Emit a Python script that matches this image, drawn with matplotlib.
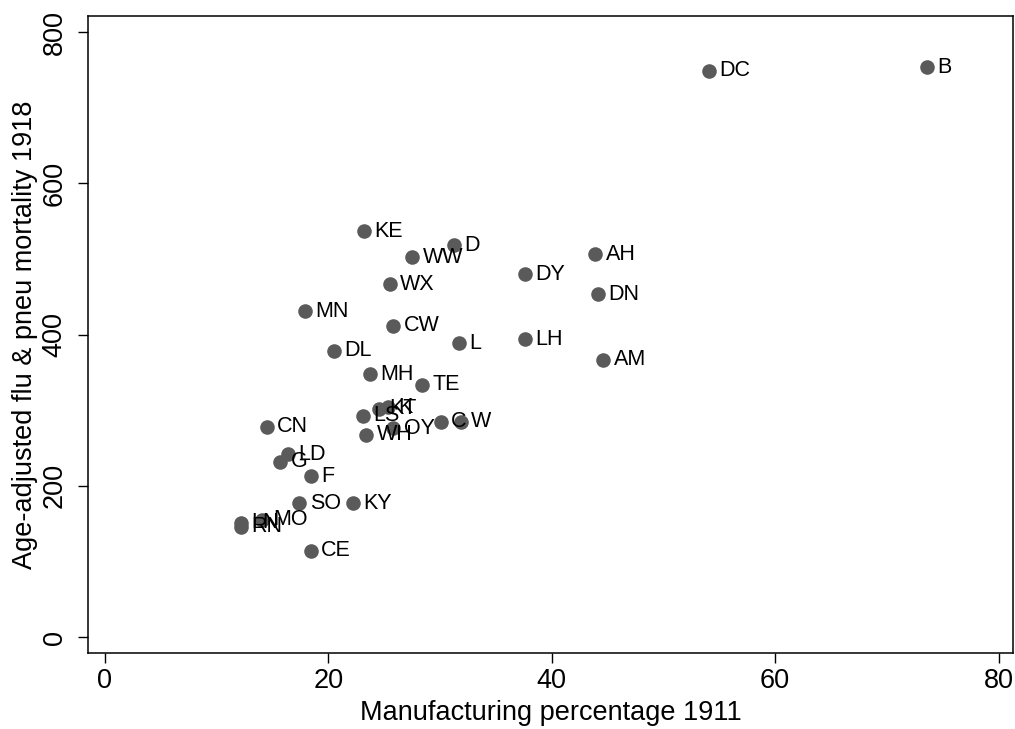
import numpy as np
import matplotlib
matplotlib.use("Agg")
import matplotlib.pyplot as plt

plt.rcParams['font.family'] = ['Liberation Sans', 'DejaVu Sans']

# city labels, manufacturing % 1911, flu & pneumonia mortality 1918
labels = ["B", "DC", "KE", "D", "WW", "AH", "DY", "DN", "WX", "MN",
          "CW", "L", "LH", "AM", "DL", "MH", "TE", "KT", "K", "LS",
          "WH", "OY", "C", "W", "CN", "LD", "G", "F", "SO", "KY",
          "CE", "LN", "RN", "MO"]
manuf = [73.6, 54.1, 23.2, 31.25, 27.5, 43.9, 37.6, 44.1, 25.5, 17.9,
         25.8, 31.65, 37.6, 44.6, 20.5, 23.7, 28.35, 24.5, 25.3, 23.1,
         23.4, 25.8, 30.05, 31.85, 14.5, 16.4, 15.7, 18.4, 17.4, 22.2,
         18.4, 12.2, 12.2, 14.1]
mortality = [754, 749, 537, 518.5, 502.5, 506.5, 480, 453.5, 467, 431,
             412, 389, 394, 367, 379, 348, 334, 302, 304, 293,
             268, 276, 285, 285, 278, 242, 232, 213, 177, 177,
             114, 151, 146, 155]

fig = plt.figure(figsize=(10.15, 7.29), dpi=100)
# frame: x 88..1013 px, y 16..653 px
ax = fig.add_axes([0.0867, 0.104, 0.9113, 0.874])

ax.scatter(manuf, mortality, s=110, color="#5a5a5a", zorder=2, linewidths=0)
for lab, x, y in zip(labels, manuf, mortality):
    ax.annotate(lab, (x, y), xytext=(7.5, 0), textcoords="offset points",
                ha="left", va="center", fontsize=15.5, color="black", zorder=3)

ax.set_xlim(-1.52, 81.29)
ax.set_ylim(-21.2, 821.4)
ax.set_xticks([0, 20, 40, 60, 80])
ax.set_yticks([0, 200, 400, 600, 800])
ax.tick_params(axis="both", direction="out", length=7.5, width=1, labelsize=19.5)
ax.tick_params(axis="x", pad=3.5)
ax.tick_params(axis="y", pad=7)
for t in ax.get_yticklabels():
    t.set_rotation(90)
    t.set_va("center")
ax.set_xlabel("Manufacturing percentage 1911", fontsize=19.5, labelpad=4)
ax.set_ylabel("Age-adjusted flu & pneu mortality 1918", fontsize=19.5, labelpad=3)
for sp in ax.spines.values():
    sp.set_linewidth(1.1)

fig.savefig("out.png", dpi=100)
